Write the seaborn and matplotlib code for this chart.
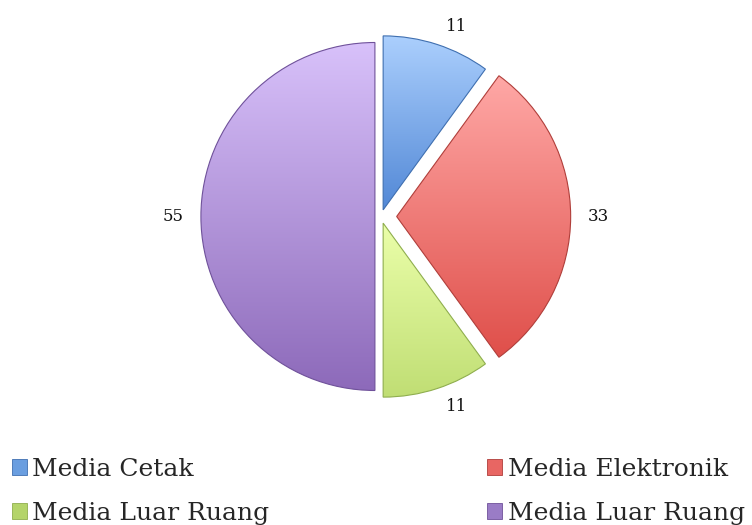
import numpy as np
import matplotlib
matplotlib.use("Agg")
import matplotlib.pyplot as plt
from matplotlib.patches import Patch
from matplotlib.colors import to_rgb
import seaborn as sns

# ---- data ----
categories = ["Media Cetak", "Media Elektronik", "Media Luar Ruang", "Media Luar Ruang"]
values = [11, 33, 11, 55]
explode = [0.04, 0.09, 0.04, 0.035]
top_colors = ["#abcffd", "#ffa8a6", "#ebffaa", "#d8c1fa"]
bottom_colors = ["#5288d6", "#df4f4a", "#c0de74", "#8d6aba"]
mid_colors = ["#6a9ee0", "#e86663", "#b4d46a", "#9a7cc6"]
edge_colors = ["#3f6fb0", "#b03e3a", "#8fae4e", "#6f519a"]

sns.set_theme(style="white")
plt.rcParams["font.family"] = ["DejaVu Serif"]

W, H = 752, 525
fig = plt.figure(figsize=(W / 100, H / 100), dpi=100)
ax = fig.add_axes([0, 0, 1, 1])

R = 174.0
cx, cy = 381.0, 216.5
total = sum(values)

wedges, texts, autotexts = ax.pie(
    values, explode=explode, startangle=90, counterclock=False,
    radius=1.0, autopct=lambda p: f"{int(round(p * total / 100))}",
    pctdistance=1.16, colors=mid_colors,
    wedgeprops=dict(linewidth=0.8),
    textprops=dict(fontsize=12, color="#111111"),
)

for w, at, tc, bc, ec in zip(wedges, autotexts, top_colors, bottom_colors, edge_colors):
    ext = w.get_path().get_extents()
    t = np.array(to_rgb(tc)); b = np.array(to_rgb(bc))
    n = 256
    s = np.linspace(0, 1, n)[:, None]
    grad = (b * (1 - s) + t * s)[:, None, :]
    im = ax.imshow(grad, extent=[ext.x0, ext.x1, ext.y0, ext.y1], origin="lower",
                   aspect="auto", interpolation="bilinear", zorder=1)
    im.set_clip_path(w)
    w.set_facecolor("none")
    w.set_edgecolor(ec)
    w.set_zorder(2)
    mid = np.deg2rad((w.theta1 + w.theta2) / 2)
    if abs(np.cos(mid)) < 0.6:
        at.set_horizontalalignment("left")
        at.set_verticalalignment("top" if np.sin(mid) > 0 else "bottom")

ax.set_aspect("auto")
ax.set_xlim(-cx / R, (W - cx) / R)
ax.set_ylim(-(H - cy) / R, cy / R)
ax.axis("off")

# legend: column-major order -> [blue, green] then [red, purple]
order = [0, 2, 1, 3]
handles = [Patch(facecolor=mid_colors[i], edgecolor=edge_colors[i], linewidth=0.6) for i in order]
labels = [categories[i] for i in order]
fig.legend(handles, labels, ncol=2, loc="upper left",
           bbox_to_anchor=(12 / W, 1 - 458 / H), frameon=False,
           fontsize=18, handlelength=0.6, handleheight=0.6,
           handletextpad=0.22, columnspacing=8.7, labelspacing=0.84,
           borderpad=0, borderaxespad=0)

fig.savefig("out.png", dpi=100)
